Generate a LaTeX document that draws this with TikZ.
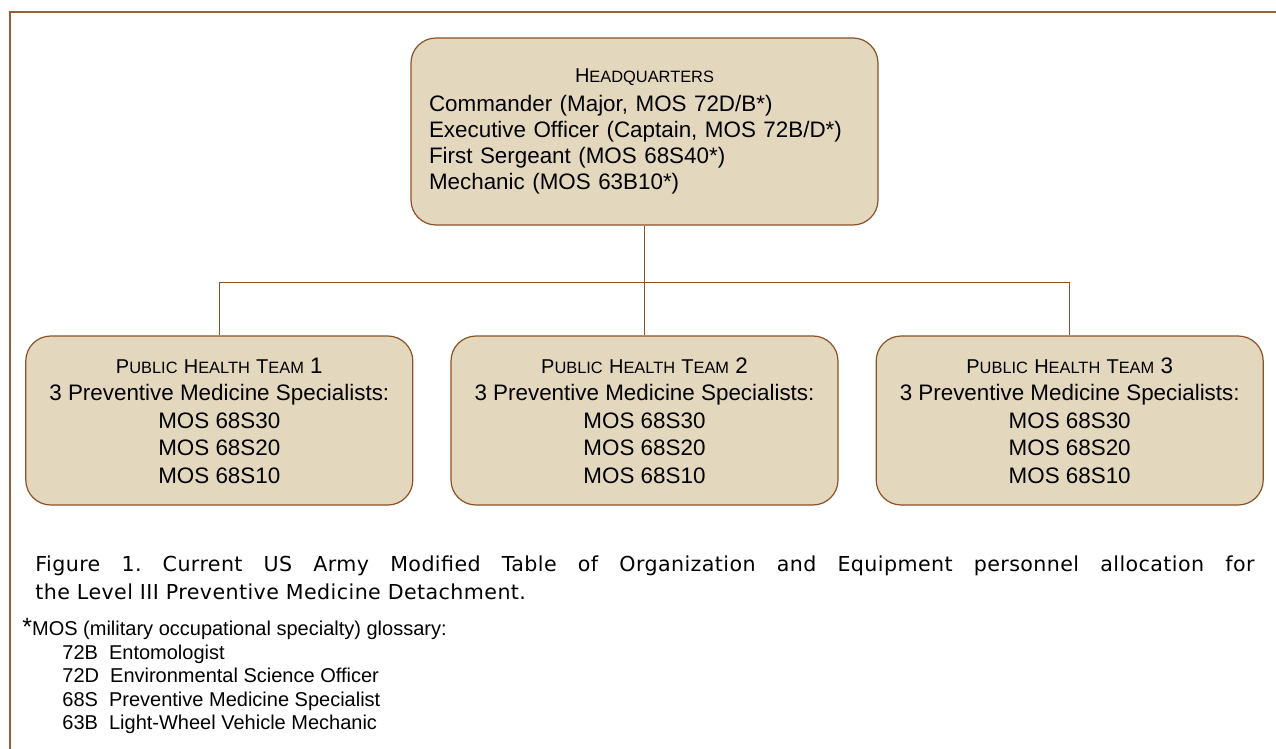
\documentclass[tikz,border=0pt]{standalone}
\usepackage{fontspec}
\setmainfont{Liberation Sans}
\newfontfamily\capfont[LetterSpace=2]{DejaVu Sans}
\usetikzlibrary{positioning}
\definecolor{boxfill}{RGB}{227,216,190}
\definecolor{boxline}{RGB}{140,82,38}
\definecolor{frameline}{RGB}{150,95,55}
\newcommand{\fakesc}[2]{{\fontsize{10}{12}\selectfont #1}{\fontsize{8.2}{9}\selectfont #2}}
\tikzset{
  unitbox/.style={draw=boxline, fill=boxfill, line width=0.6pt, rounded corners=12.5pt,
    font=\fontsize{11.2}{13.75}\selectfont},
  hqbox/.style={unitbox, minimum width=233.5pt, minimum height=93.5pt,
    text width=215.5pt, align=left, font=\fontsize{11.2}{13}\selectfont},
  teambox/.style={unitbox, minimum width=193.5pt, minimum height=84.5pt, align=center},
  link/.style={draw=boxline, line width=0.5pt},
  frame/.style={draw=frameline, line width=0.8pt}
}
\begin{document}
\begin{tikzpicture}[x=0.5pt, y=-0.5pt]
    \useasboundingbox (0,0) rectangle (1276,749);
    \draw[frame] (10,749) -- (10,12) -- (1276,12);
    % headquarters
    \node[hqbox] (hq) at (644.5,131.5) {\makebox[\linewidth]{\fakesc{H}{EADQUARTERS}}\\[1.5pt]
      Commander (Major, MOS 72D/B*)\\
      Executive Officer (Captain, MOS 72B/D*)\\
      First Sergeant (MOS 68S40*)\\
      Mechanic (MOS 63B10*)\\[6pt]};
    % teams
    \node[teambox] (team2) at (644.5,420.5) {\fakesc{P}{UBLIC} \fakesc{H}{EALTH} \fakesc{T}{EAM} 2\\
      3 Preventive Medicine Specialists:\\ MOS 68S30\\ MOS 68S20\\ MOS 68S10};
    \node[teambox, left=18.5pt of team2] (team1) {\fakesc{P}{UBLIC} \fakesc{H}{EALTH} \fakesc{T}{EAM} 1\\
      3 Preventive Medicine Specialists:\\ MOS 68S30\\ MOS 68S20\\ MOS 68S10};
    \node[teambox, right=18.5pt of team2] (team3) {\fakesc{P}{UBLIC} \fakesc{H}{EALTH} \fakesc{T}{EAM} 3\\
      3 Preventive Medicine Specialists:\\ MOS 68S30\\ MOS 68S20\\ MOS 68S10};
    \draw[link] (hq.south) -- ++(0,57) coordinate (bus);
    \draw[link] (bus) -| (team1.north);
    \draw[link] (bus) -- (team2.north);
    \draw[link] (bus) -| (team3.north);
    % caption and glossary
    \node[anchor=north west, inner sep=0pt, text width=609.5pt, align=justify,
      font=\capfont\fontsize{10.3}{14}\selectfont\frenchspacing] (caption) at (35,555)
      {Figure 1. Current US Army Modified Table of Organization and Equipment personnel allocation for\linebreak the Level III Preventive Medicine Detachment.};
    \node[anchor=north west, inner sep=0pt, align=left,
      font=\fontsize{10}{11.75}\selectfont] (gloss) at (22,618)
      {{\fontsize{12.5}{10}\selectfont *}MOS (military occupational specialty) glossary:\\
      \hspace*{20pt}72B\ \ Entomologist\\
      \hspace*{20pt}72D\ \ Environmental Science Officer\\
      \hspace*{20pt}68S\ \ Preventive Medicine Specialist\\
      \hspace*{20pt}63B\ \ Light-Wheel Vehicle Mechanic};
\end{tikzpicture}
\end{document}
